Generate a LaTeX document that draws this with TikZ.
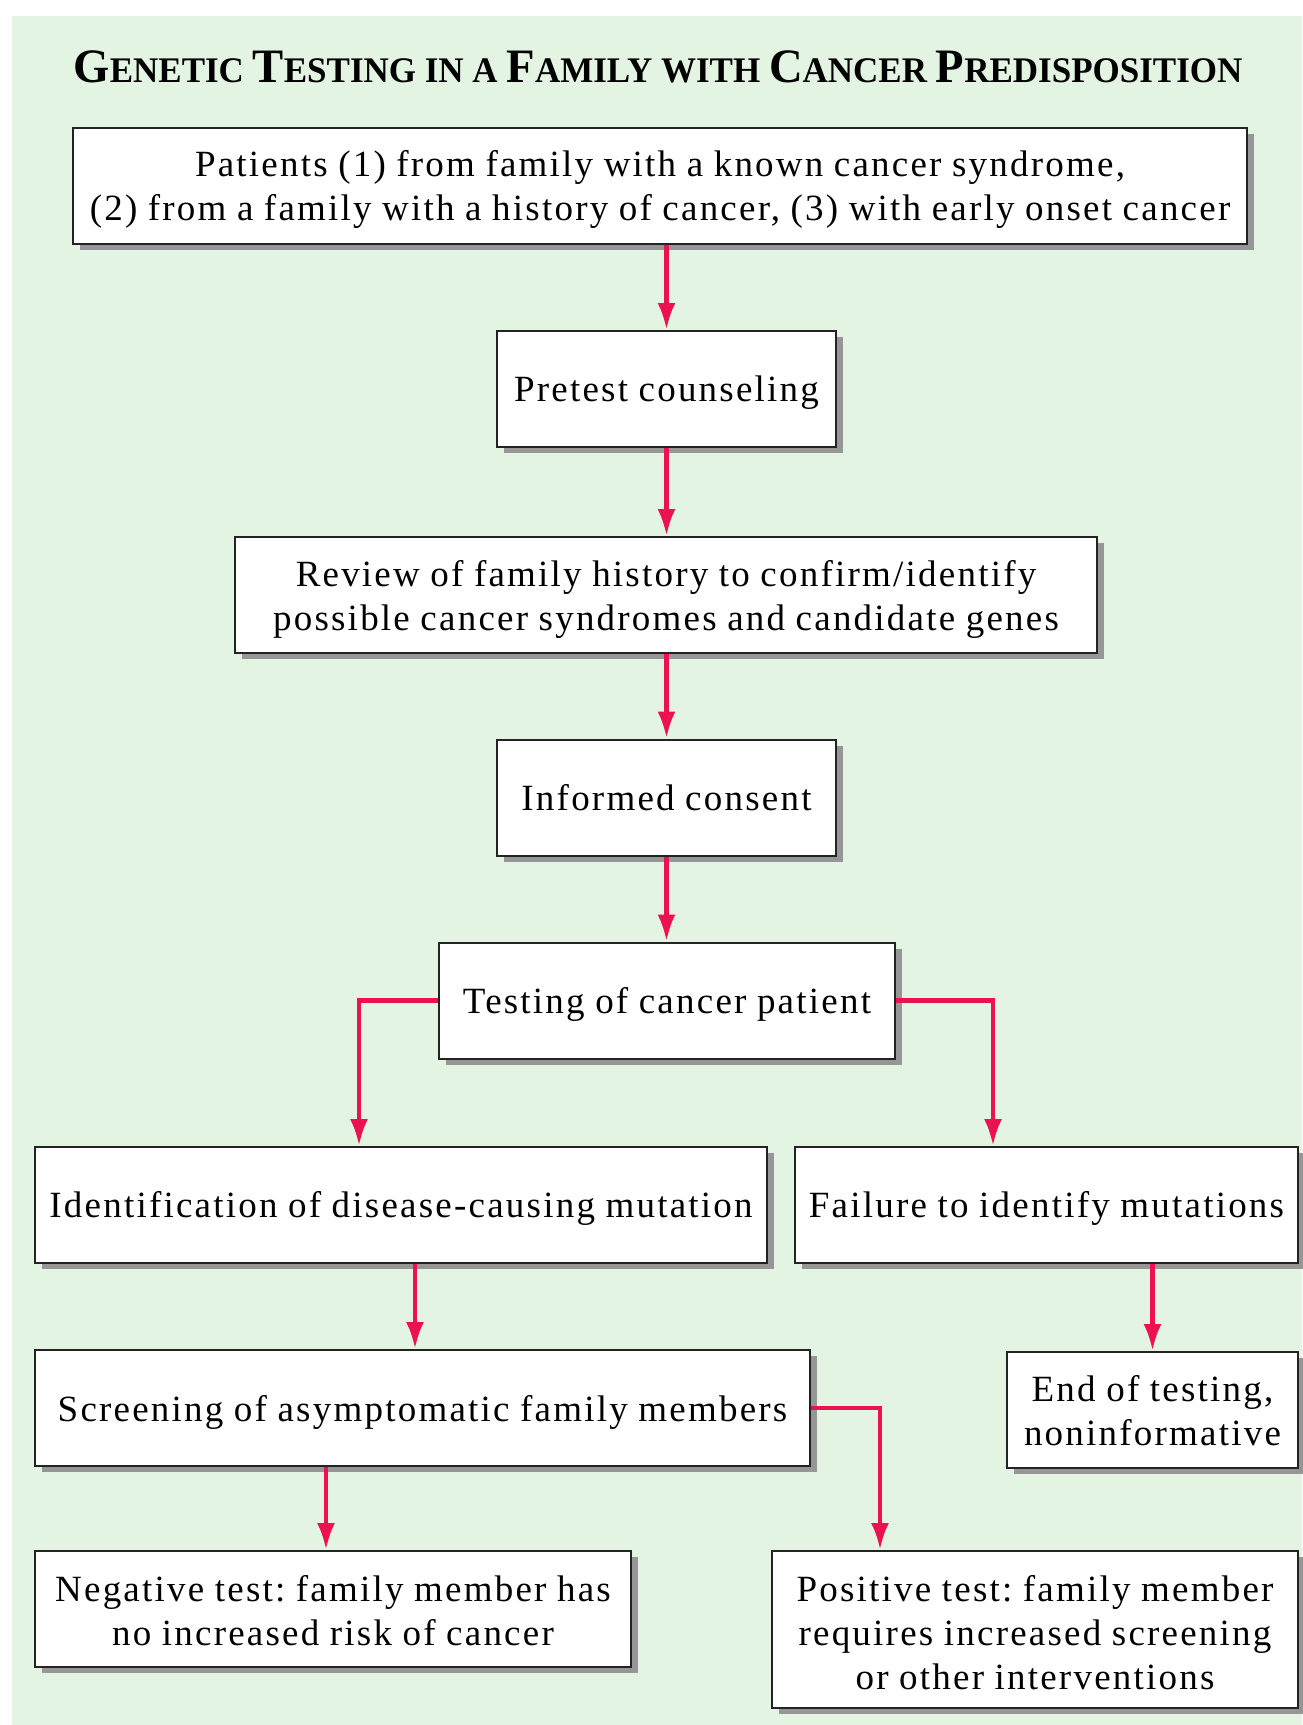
\documentclass[tikz,border=0pt]{standalone}
\usepackage{fontspec}
\usepackage{graphicx}
\setmainfont{Liberation Serif}
\usetikzlibrary{shadows,arrows.meta}
\frenchspacing

\definecolor{bggreen}{RGB}{227,244,226}
\definecolor{arrowred}{RGB}{236,17,80}
\definecolor{shadowgray}{RGB}{150,150,150}
\definecolor{edgegray}{RGB}{35,35,35}

\newfontfamily\boxfont[LetterSpace=6, WordSpace=0.92]{Liberation Serif}
\newcommand\titlebig[1]{{\fontsize{48}{48}\selectfont #1}}
\newcommand\titlesmall[1]{{\fontsize{36}{36}\selectfont #1}}
% box text, lowered a little inside its frame
\newcommand\steptext[2][4.5pt]{\raisebox{-#1}[\height][\depth]{%
  \begin{tabular}{@{}c@{}}#2\end{tabular}}}

\tikzset{
  stepbox/.style={draw=edgegray, line width=2pt, fill=white, inner sep=0pt,
    minimum height=116pt,
    font=\boxfont\fontsize{37}{44}\selectfont,
    drop shadow={shadow xshift=7pt, shadow yshift=-6pt, fill=shadowgray, opacity=1}},
  flow/.style={draw=arrowred, line width=4.5pt, -{Latex[length=27pt,width=18pt]}},
}

\begin{document}
\begin{tikzpicture}[x=1pt, y=-1pt]
  \useasboundingbox (0,0) rectangle (1302,1725);
  \fill[bggreen] (12,16) rectangle (1302,1725);

  % title
  \node[anchor=base, font=\bfseries\fontsize{36}{36}\selectfont] (title) at (658,82)
    {\scalebox{0.972}[1]{\titlebig{G}\titlesmall{ENETIC} \titlebig{T}\titlesmall{ESTING}
    \titlesmall{IN A} \titlebig{F}\titlesmall{AMILY WITH}
    \titlebig{C}\titlesmall{ANCER} \titlebig{P}\titlesmall{REDISPOSITION}}};

  % main column
  \node[stepbox, minimum width=1174pt] (patients) at (660,185.5)
    {\steptext{Patients (1) from family with a known cancer syndrome,\\
     (2) from a family with a history of cancer, (3) with early onset cancer}};
  \node[stepbox, minimum width=339pt] (pretest) at (666.5,389) {\steptext[3.5pt]{Pretest counseling}};
  \node[stepbox, minimum width=862pt] (review) at (666,595)
    {\steptext{Review of family history to confirm/identify\\
     possible cancer syndromes and candidate genes}};
  \node[stepbox, minimum width=339pt] (consent) at (666.5,797.5) {\steptext{Informed consent}};
  \node[stepbox, minimum width=456pt] (testing) at (667,1000.5) {\steptext{Testing of cancer patient}};

  % results of the test
  \node[stepbox, minimum width=732pt] (identif) at (401,1205)
    {\steptext[3.5pt]{Identification of disease-causing mutation}};
  \node[stepbox, minimum width=503pt] (failure) at (1046.5,1205)
    {\steptext[3.5pt]{Failure to identify mutations}};
  \node[stepbox, minimum width=775pt] (screening) at (422.5,1408)
    {\steptext{Screening of asymptomatic family members}};
  \node[stepbox, minimum width=291pt] (endtest) at (1152.5,1410)
    {\steptext{End of testing,\\ noninformative}};
  \node[stepbox, minimum width=596pt] (negative) at (333,1609)
    {\steptext[5.5pt]{Negative test: family member has\\ no increased risk of cancer}};
  \node[stepbox, minimum width=526pt, minimum height=157pt] (positive) at (1035,1629.5)
    {\steptext[7.5pt]{Positive test: family member\\ requires increased screening\\ or other interventions}};

  % connectors
  \draw[flow] (pretest.north |- patients.south) -- (pretest.north);
  \draw[flow] (pretest.south) -- (pretest.south |- review.north);
  \draw[flow] (consent.north |- review.south) -- (consent.north);
  \draw[flow] (consent.south) -- (consent.south |- testing.north);
  \draw[flow] (testing.west) -| ([xshift=-42pt]identif.north);
  \draw[flow] (testing.east) -| ([xshift=-53.5pt]failure.north);
  \draw[flow] ([xshift=14pt]identif.south) -- ([xshift=14pt]identif.south |- screening.north);
  \draw[flow] (endtest.north |- failure.south) -- (endtest.north);
  \draw[flow] ([xshift=-7pt]negative.north |- screening.south) -- ([xshift=-7pt]negative.north);
  \draw[flow] (screening.east) -| ([xshift=-155pt]positive.north);
\end{tikzpicture}
\end{document}
